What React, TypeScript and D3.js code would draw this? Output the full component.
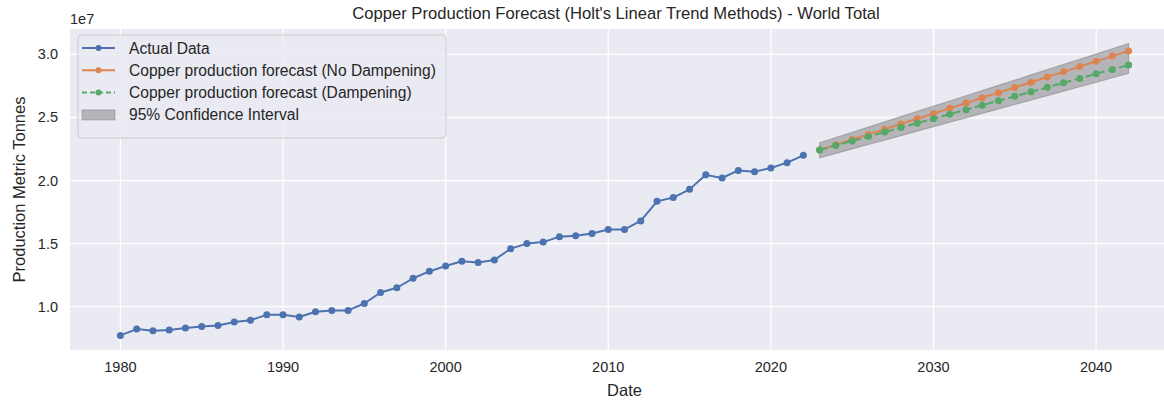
import React from "react";
import * as d3 from "d3";

// values in millions of tonnes (axis shows them as 1e7)
const actualYears = [
  1980, 1981, 1982, 1983, 1984, 1985, 1986, 1987, 1988, 1989, 1990, 1991, 1992, 1993, 1994,
  1995, 1996, 1997, 1998, 1999, 2000, 2001, 2002, 2003, 2004, 2005, 2006, 2007, 2008, 2009,
  2010, 2011, 2012, 2013, 2014, 2015, 2016, 2017, 2018, 2019, 2020, 2021, 2022,
];
const actualValues = [
  7.72, 8.22, 8.08, 8.15, 8.3, 8.43, 8.5, 8.78, 8.93, 9.35, 9.35, 9.18, 9.6, 9.7, 9.7,
  10.25, 11.12, 11.5, 12.25, 12.8, 13.22, 13.6, 13.5, 13.7, 14.6, 15.0, 15.12, 15.55, 15.62, 15.8,
  16.12, 16.12, 16.8, 18.35, 18.65, 19.3, 20.45, 20.2, 20.8, 20.7, 21.0, 21.42, 22.0,
];
const forecastYears = [
  2023, 2024, 2025, 2026, 2027, 2028, 2029, 2030, 2031, 2032, 2033, 2034, 2035, 2036, 2037,
  2038, 2039, 2040, 2041, 2042,
];
const noDampValues = [
  22.42, 22.83, 23.25, 23.66, 24.07, 24.49, 24.9, 25.31, 25.73, 26.14, 26.56, 26.97, 27.38,
  27.8, 28.21, 28.62, 29.04, 29.45, 29.87, 30.28,
];
const dampValues = [
  22.42, 22.78, 23.13, 23.49, 23.84, 24.2, 24.55, 24.91, 25.26, 25.62, 25.97, 26.33, 26.68,
  27.04, 27.39, 27.75, 28.1, 28.46, 28.81, 29.16,
];
const ciUpper = [
  23.0, 23.41, 23.83, 24.24, 24.65, 25.07, 25.48, 25.9, 26.31, 26.72, 27.14, 27.55, 27.96,
  28.38, 28.79, 29.21, 29.62, 30.03, 30.45, 30.86,
];
const ciLower = [
  21.8, 22.15, 22.51, 22.86, 23.21, 23.56, 23.92, 24.27, 24.62, 24.97, 25.33, 25.68, 26.03,
  26.38, 26.74, 27.09, 27.44, 27.79, 28.15, 28.5,
];
const xTicks = [1980, 1990, 2000, 2010, 2020, 2030, 2040];
const yTicks = [10, 15, 20, 25, 30];

const W = 1164;
const H = 402;
const left = 70;
const right = 1179;
const top = 29;
const bottom = 350;

const font = "'Liberation Sans', Arial, sans-serif";
const textColor = "#262626";
const blue = "#4C72B0";
const orange = "#DD8452";
const green = "#55A868";

const App = () => {
  const xPad = (2042 - 1980) * 0.05;
  const x = d3.scaleLinear().domain([1980 - xPad, 2042 + xPad]).range([left, right]);
  const yMin = d3.min(actualValues)!;
  const yMax = d3.max(ciUpper)!;
  const yPad = (yMax - yMin) * 0.05;
  const y = d3.scaleLinear().domain([yMin - yPad, yMax + yPad]).range([bottom, top]);

  const line = d3
    .line<[number, number]>()
    .x(d => x(d[0]))
    .y(d => y(d[1]));
  const band = d3
    .area<number>()
    .x((d, i) => x(forecastYears[i]))
    .y0((d, i) => y(ciLower[i]))
    .y1(d => y(d));

  const actual = actualYears.map((yr, i) => [yr, actualValues[i]] as [number, number]);
  const noDamp = forecastYears.map((yr, i) => [yr, noDampValues[i]] as [number, number]);
  const damp = forecastYears.map((yr, i) => [yr, dampValues[i]] as [number, number]);

  const series = [
    { data: actual, color: blue, dash: undefined },
    { data: noDamp, color: orange, dash: undefined },
    { data: damp, color: green, dash: "8,3.5" },
  ];

  const legendItems = [
    { label: "Actual Data", color: blue, dash: undefined },
    { label: "Copper production forecast (No Dampening)", color: orange, dash: undefined },
    { label: "Copper production forecast (Dampening)", color: green, dash: "5,3" },
  ];
  const fmt = d3.format(".1f");

  return (
    <div style={{ position: "absolute", left: 0, top: 0, width: W, height: H, overflow: "hidden" }}>
      <svg width={W} height={H} style={{ display: "block", background: "#fff" }} fontFamily={font}>
        <rect x={left} y={top} width={right - left} height={bottom - top} fill="#EAEAF2" />
        {/* grid */}
        {xTicks.map(t => (
          <line key={"gx" + t} x1={x(t)} x2={x(t)} y1={top} y2={bottom} stroke="#fff" strokeWidth={1.3} />
        ))}
        {yTicks.map(t => (
          <line key={"gy" + t} x1={left} x2={right} y1={y(t)} y2={y(t)} stroke="#fff" strokeWidth={1.3} />
        ))}

        {/* confidence band */}
        <path
          d={band(ciUpper)!}
          fill="rgba(128,128,128,0.5)"
          stroke="rgba(128,128,128,0.5)"
          strokeWidth={1.2}
        />

        {series.map((s, i) => (
          <g key={"s" + i}>
            <path
              d={line(s.data)!}
              fill="none"
              stroke={s.color}
              strokeWidth={2}
              strokeDasharray={s.dash}
              strokeLinejoin="round"
            />
            {s.data.map((d, j) => (
              <circle key={j} cx={x(d[0])} cy={y(d[1])} r={3.5} fill={s.color} />
            ))}
          </g>
        ))}

        {/* ticks */}
        {xTicks.map(t => (
          <text key={"tx" + t} x={x(t)} y={372} textAnchor="middle" fontSize={14.5} fill={textColor}>
            {t}
          </text>
        ))}
        {yTicks.map(t => (
          <text key={"ty" + t} x={58} y={y(t) + 5} textAnchor="end" fontSize={14.5} fill={textColor}>
            {fmt(t / 10)}
          </text>
        ))}
        <text x={left} y={24} fontSize={14.5} fill={textColor}>1e7</text>

        {/* labels */}
        <text x={(left + right) / 2} y={396} textAnchor="middle" fontSize={16.5} fill={textColor}>
          Date
        </text>
        <text
          transform={`translate(25, ${(top + bottom) / 2}) rotate(-90)`}
          textAnchor="middle"
          fontSize={16.5}
          fill={textColor}
        >
          Production Metric Tonnes
        </text>
        <text x={616} y={19} textAnchor="middle" fontSize={16.6} fill={textColor}>
          Copper Production Forecast (Holt's Linear Trend Methods) - World Total
        </text>

        {/* legend */}
        <g transform="translate(78,35)">
          <rect width={368} height={103} rx={4} fill="#EAEAF2" fillOpacity={0.8} stroke="#CCCCCC" />
          {legendItems.map((it, i) => (
            <g key={"l" + i} transform={`translate(0, ${13 + i * 22.3})`}>
              <line x1={4} x2={37} y1={0} y2={0} stroke={it.color} strokeWidth={2} strokeDasharray={it.dash} />
              <circle cx={20.5} cy={0} r={3} fill={it.color} />
              <text x={51} y={5.5} fontSize={15.6} fill={textColor}>{it.label}</text>
            </g>
          ))}
          <g transform={`translate(0, ${13 + 3 * 22.3})`}>
            <rect x={4} y={-5} width={33} height={10} fill="rgba(128,128,128,0.5)" stroke="rgba(128,128,128,0.5)" />
            <text x={51} y={5.5} fontSize={15.6} fill={textColor}>95% Confidence Interval</text>
          </g>
        </g>
      </svg>
    </div>
  );
};

export default App;
